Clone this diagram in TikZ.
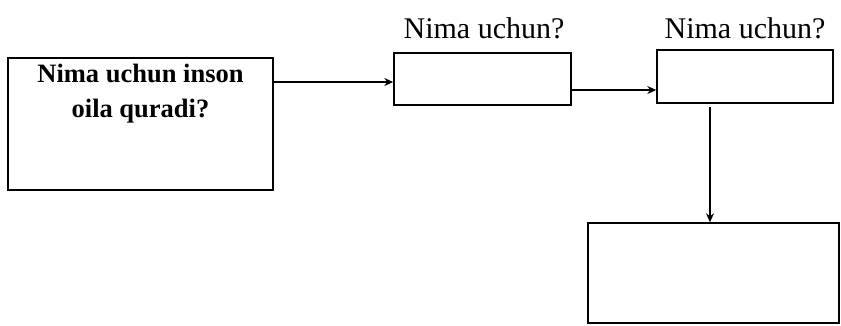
\documentclass[tikz,border=0pt]{standalone}
\usepackage{fontspec}
\setmainfont{Liberation Serif}
\usetikzlibrary{arrows.meta}
\begin{document}
\begin{tikzpicture}[x=1pt,y=-1pt,
  box/.style={draw,line width=1.4pt,inner sep=0pt},
  conn/.style={line width=1.4pt,-{Stealth[length=9pt,width=8pt]}},
  lbl/.style={font=\fontsize{30}{32}\selectfont,inner sep=0pt}]
\useasboundingbox (0,0) rectangle (841,325);
\node[box,minimum width=265pt,minimum height=132pt] (b1) at (140.5,124) {};
\node[font=\fontsize{26.5}{35}\selectfont\bfseries,align=center] (t1) at (140.5,94) {Nima uchun inson\\oila quradi?};
\node[box,minimum width=177pt,minimum height=52pt] (b2) at (482.5,79) {};
\node[box,minimum width=176pt,minimum height=53pt] (b3) at (745,76.5) {};
\node[box,minimum width=251pt,minimum height=100pt] (b4) at (713.5,273) {};
\node[lbl] (l2) at (484,28) {Nima uchun?};
\node[lbl] (l3) at (745,28) {Nima uchun?};
\coordinate (s1) at (b1.east |- 0,82);
\coordinate (e1) at (b2.west |- 0,82);
\draw[conn] (s1) -- (e1);
\coordinate (s2) at (b2.east |- 0,90);
\coordinate (e2) at (b3.west |- 0,90);
\draw[conn] (s2) -- (e2);
\coordinate (s3) at (710,107);
\coordinate (e3) at (b4.north -| s3);
\draw[conn] (s3) -- (e3);
\end{tikzpicture}
\end{document}
